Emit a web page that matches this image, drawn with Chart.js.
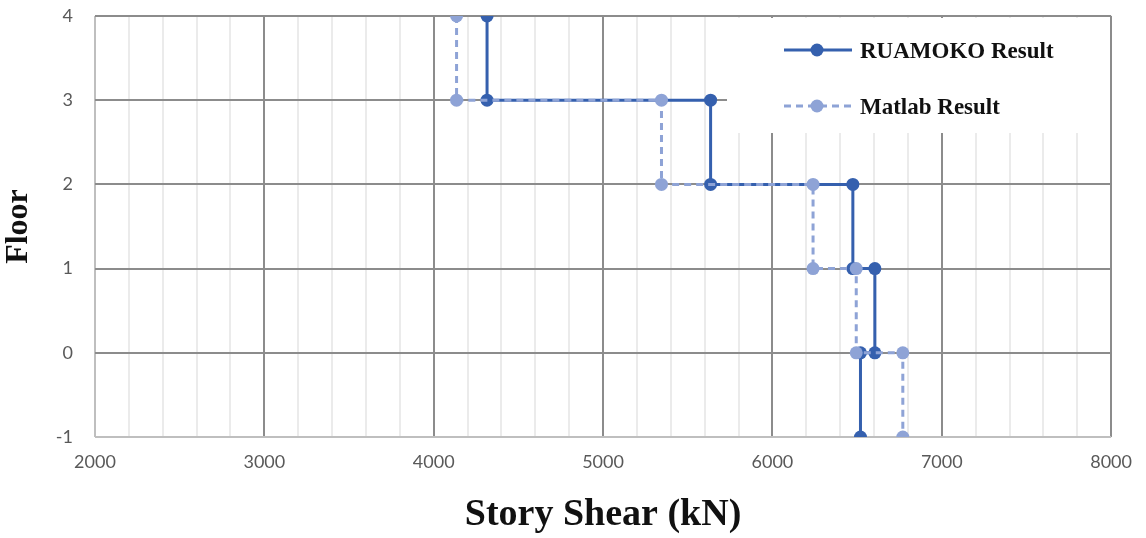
<!DOCTYPE html>
<html>
<head>
<meta charset="utf-8">
<script src="https://cdn.jsdelivr.net/npm/chart.js@4/dist/chart.umd.min.js"></script>
<style>
html,body{margin:0;padding:0;background:#fff;}
#wrap{width:1146px;height:538px;position:relative;}
</style>
</head>
<body>
<div id="wrap"><canvas id="c" width="1146" height="538"></canvas></div>
<script>
const floors = [4, 3, 3, 2, 2, 1, 1, 0, 0, -1];
const ruamokoShear = [4315, 4315, 5635, 5635, 6475, 6475, 6605, 6605, 6520, 6520];
const matlabShear = [4135, 4135, 5345, 5345, 6240, 6240, 6495, 6495, 6770, 6770];
const seriesNames = ['RUAMOKO Result', 'Matlab Result'];
const xTicks = [2000, 3000, 4000, 5000, 6000, 7000, 8000];
const yTicks = [-1, 0, 1, 2, 3, 4];

const darkBlue = '#3560AE';
const lightBlue = '#8EA3D6';

const toPts = (xs, ys) => xs.map((x, i) => ({x: x, y: ys[i]}));

const legendPlugin = {
  id: 'customLegend',
  beforeDatasetsDraw(chart) {
    const ctx = chart.ctx;
    ctx.save();
    ctx.fillStyle = '#ffffff';
    ctx.fillRect(727, 18, 383, 115);
    ctx.restore();
  },
  afterDraw(chart) {
    const ctx = chart.ctx;
    const items = [
      {label: seriesNames[0], color: darkBlue, dash: [], y: 50},
      {label: seriesNames[1], color: lightBlue, dash: [7, 5], y: 106}
    ];
    ctx.save();
    items.forEach(it => {
      ctx.strokeStyle = it.color;
      ctx.lineWidth = 3;
      ctx.setLineDash(it.dash);
      ctx.beginPath();
      ctx.moveTo(784, it.y);
      ctx.lineTo(852, it.y);
      ctx.stroke();
      ctx.setLineDash([]);
      ctx.fillStyle = it.color;
      ctx.beginPath();
      ctx.arc(817, it.y, 6.5, 0, Math.PI * 2);
      ctx.fill();
      ctx.fillStyle = '#111';
      ctx.font = 'bold 23px "Liberation Serif", "DejaVu Serif", serif';
      ctx.textBaseline = 'middle';
      ctx.textAlign = 'left';
      ctx.fillText(it.label, 860, it.y + 2);
    });
    ctx.restore();
  }
};

new Chart(document.getElementById('c'), {
  type: 'scatter',
  data: {
    datasets: [
      {
        label: seriesNames[1],
        data: toPts(matlabShear, floors),
        showLine: true,
        borderColor: lightBlue,
        backgroundColor: lightBlue,
        borderWidth: 3,
        borderDash: [7, 5],
        pointRadius: 6.5,
        pointBorderWidth: 0,
        pointHoverRadius: 6.5,
        order: 0
      },
      {
        label: seriesNames[0],
        data: toPts(ruamokoShear, floors),
        showLine: true,
        borderColor: darkBlue,
        backgroundColor: darkBlue,
        borderWidth: 3,
        pointRadius: 6.5,
        pointBorderWidth: 0,
        pointHoverRadius: 6.5,
        order: 1
      }
    ]
  },
  options: {
    responsive: false,
    animation: false,
    layout: {padding: {top: 16, right: 31, left: 0, bottom: 0}},
    plugins: {legend: {display: false}, tooltip: {enabled: false}},
    scales: {
      x: {
        type: 'linear',
        min: 2000, max: 8000,
        afterBuildTicks(axis) {
          const t = [];
          for (let v = 2000; v <= 8000; v += 200) t.push({value: v});
          axis.ticks = t;
        },
        afterFit(axis) { axis.height = 101; },
        ticks: {
          autoSkip: false, maxRotation: 0, padding: 14,
          color: '#595959',
          font: {family: 'Lato, "Open Sans", sans-serif', size: 18},
          callback: (v) => xTicks.includes(v) ? String(v) : ''
        },
        grid: {
          color: (c) => (c.tick && c.tick.value % 1000 === 0) ? (c.tick.value === 2000 ? '#BFBFBF' : '#8C8C8C') : '#EBEBEB',
          lineWidth: 2,
          drawTicks: false
        },
        border: {display: false},
        title: {
          display: true, text: 'Story Shear (kN)', color: '#111',
          font: {family: '"Liberation Serif", "DejaVu Serif", serif', size: 38, weight: 'bold'},
          padding: {top: 6, bottom: 0}
        }
      },
      y: {
        type: 'linear',
        min: -1, max: 4,
        afterBuildTicks(axis) { axis.ticks = yTicks.map(v => ({value: v})); },
        afterFit(axis) { axis.width = 95; axis.paddingTop = 0; axis.paddingBottom = 0; },
        ticks: {
          padding: 22,
          color: '#595959',
          font: {family: 'Lato, "Open Sans", sans-serif', size: 18}
        },
        grid: {
          color: (c) => (c.tick && c.tick.value === -1) ? '#BFBFBF' : '#8C8C8C',
          lineWidth: 2,
          drawTicks: false
        },
        border: {display: false},
        title: {
          display: true, text: 'Floor', color: '#111',
          font: {family: '"Liberation Serif", "DejaVu Serif", serif', size: 32, weight: 'bold'},
          padding: {top: 0, bottom: 0}
        }
      }
    }
  },
  plugins: [legendPlugin]
});
</script>
</body>
</html>
